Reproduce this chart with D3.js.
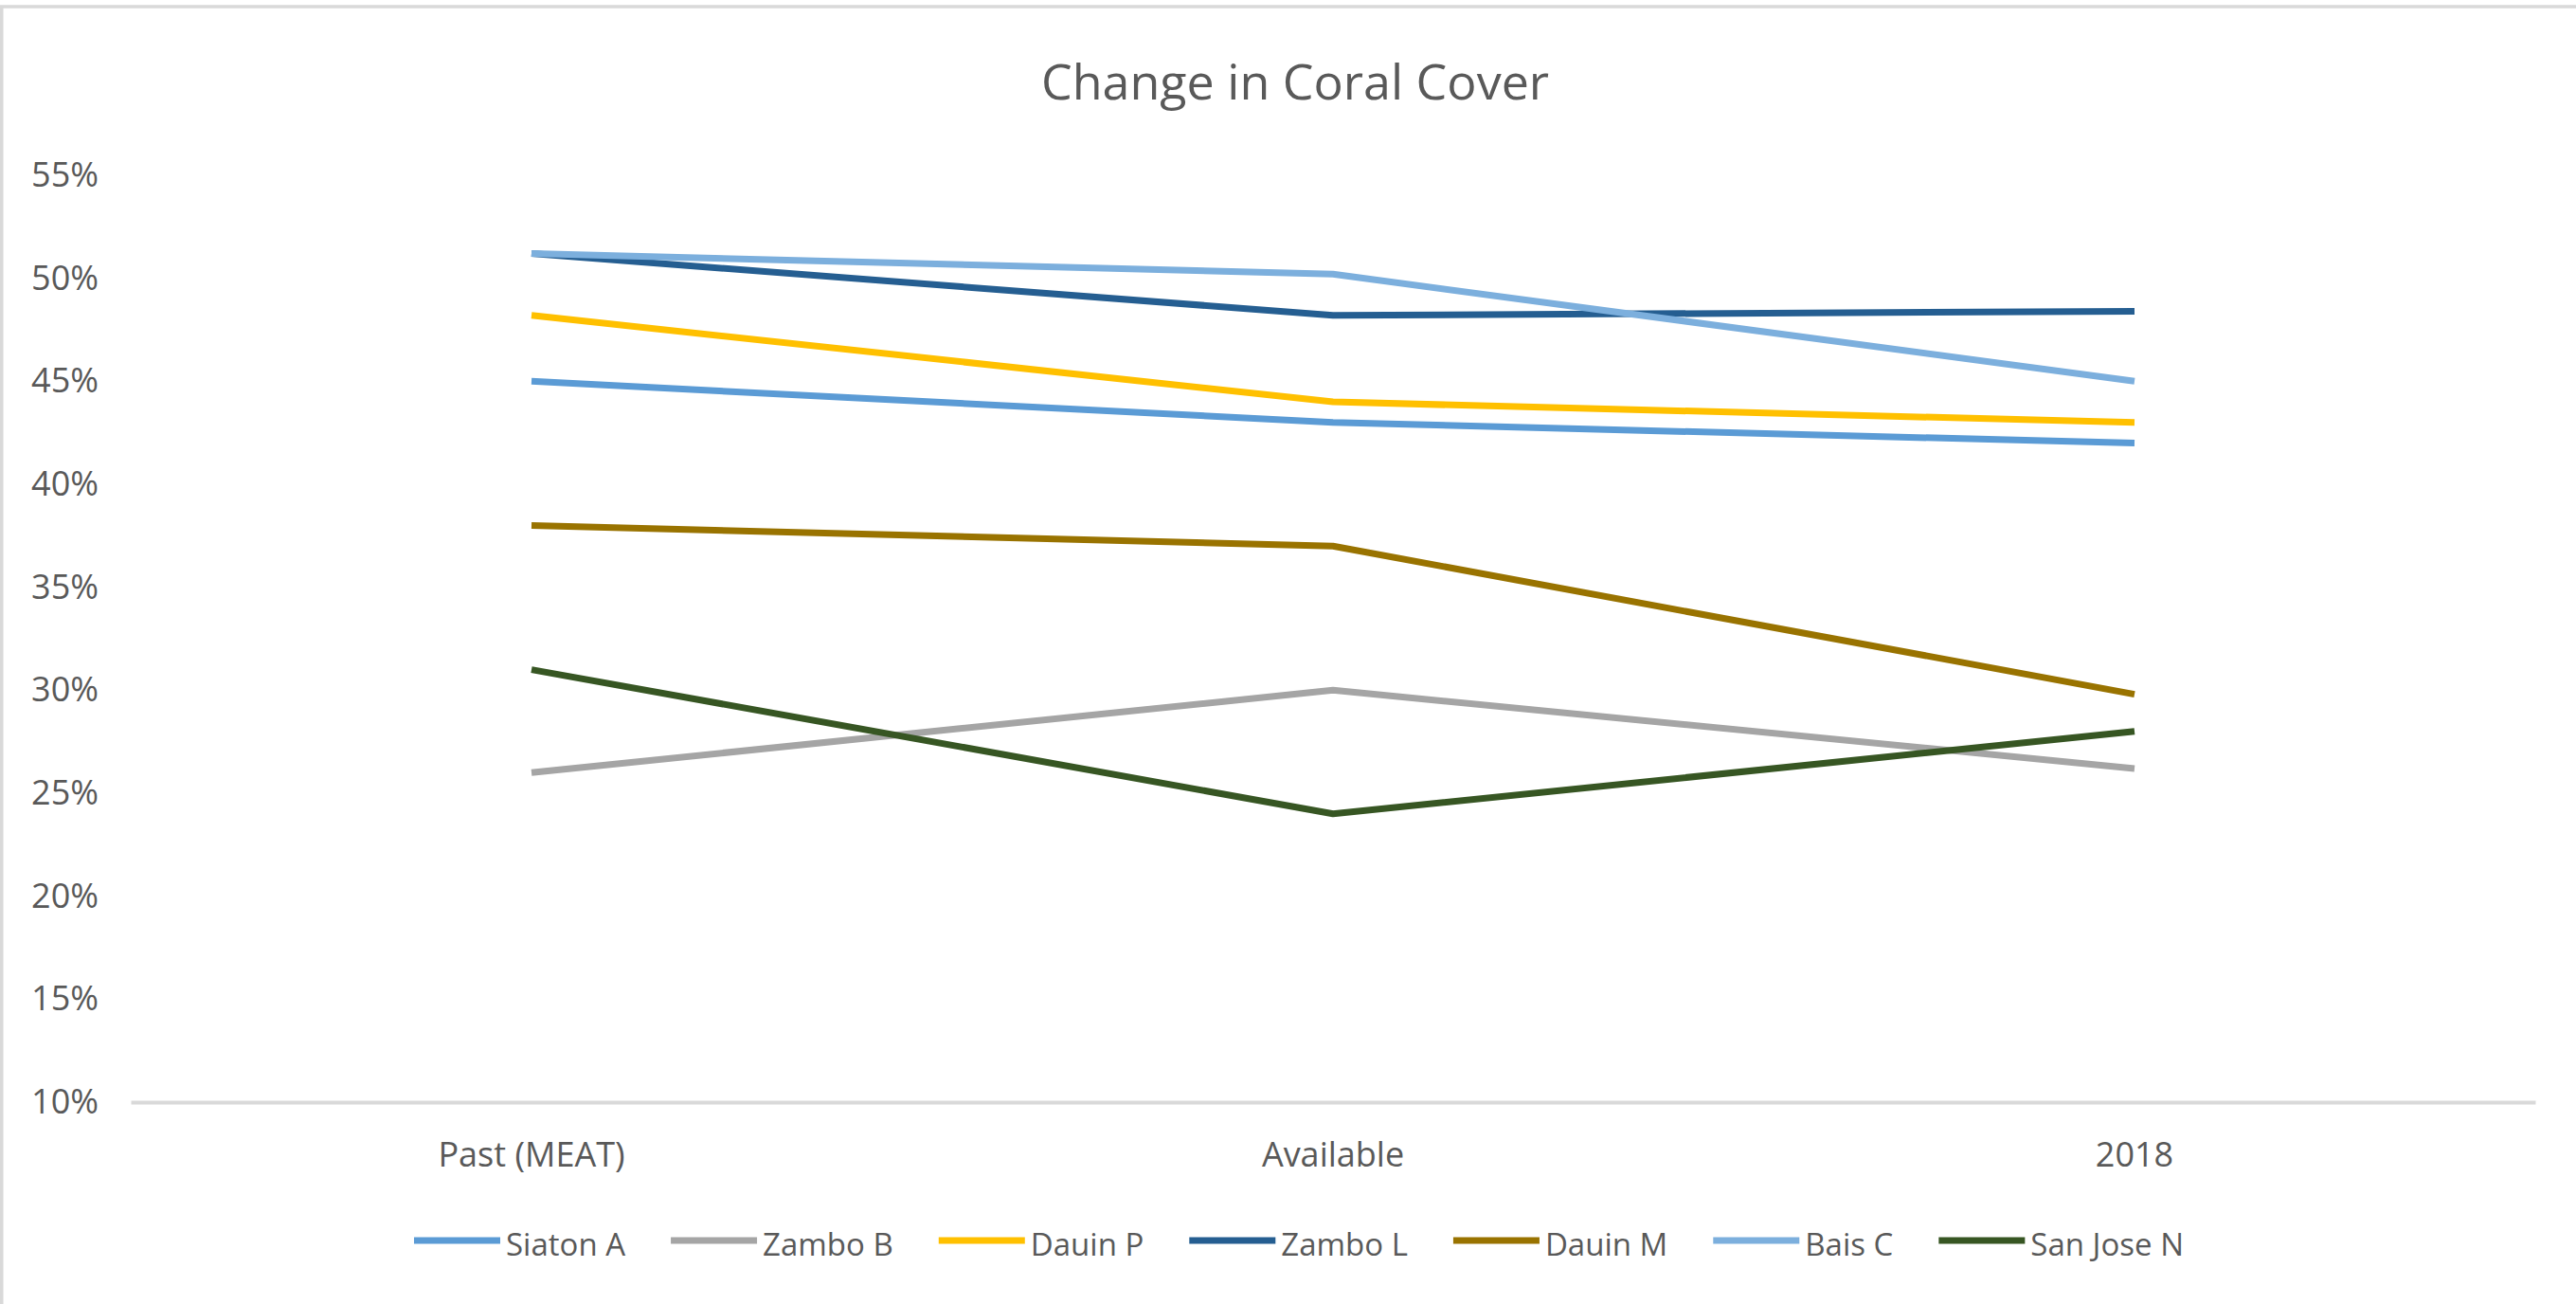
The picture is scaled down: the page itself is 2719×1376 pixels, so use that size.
<!DOCTYPE html>
<html>
<head>
<meta charset="utf-8">
<script src="https://cdn.jsdelivr.net/npm/d3@7"></script>
<style>
  html, body { margin: 0; padding: 0; background: #fff; }
  svg { display: block; }
  text { font-family: "Open Sans", "Noto Sans", sans-serif; fill: #595959; }
</style>
</head>
<body>
<svg id="chart" width="2719" height="1376"></svg>
<script>
const title = "Change in Coral Cover";
const categories = ["Past (MEAT)", "Available", "2018"];
const seriesNames = ["Siaton A", "Zambo B", "Dauin P", "Zambo L", "Dauin M", "Bais C", "San Jose N"];
const siatonA  = [45.0, 43.0, 42.0];
const zamboB   = [26.0, 30.0, 26.2];
const dauinP   = [48.2, 44.0, 43.0];
const zamboL   = [51.2, 48.2, 48.4];
const dauinM   = [38.0, 37.0, 29.8];
const baisC    = [51.2, 50.2, 45.0];
const sanJoseN = [31.0, 24.0, 28.0];
const seriesColors = ["#5B9BD5", "#A5A5A5", "#FFC000", "#255E91", "#997300", "#7CAFDD", "#375623"];
const yTicks = [10, 15, 20, 25, 30, 35, 40, 45, 50, 55];

const seriesValues = [siatonA, zamboB, dauinP, zamboL, dauinM, baisC, sanJoseN];
const series = seriesNames.map((n, i) => ({ name: n, values: seriesValues[i], color: seriesColors[i] }));

const W = 2719, H = 1376;
const svg = d3.select("#chart");

// chart border (top/left visible)
svg.append("rect").attr("x", 1.75).attr("y", 7).attr("width", W + 10).attr("height", H + 10)
  .attr("fill", "#fff").attr("stroke", "#D9D9D9").attr("stroke-width", 3.5);

const plot = { left: 138, right: 2676, top: 185, bottom: 1163 };

const x = d3.scaleBand().domain(categories).range([plot.left, plot.right]).padding(0);
const y = d3.scaleLinear().domain([10, 55]).range([plot.bottom, plot.top]);

// title
svg.append("text").attr("x", 1367).attr("y", 105).attr("text-anchor", "middle")
  .style("font-size", "52px").text(title);

// y axis labels
const yAxis = d3.axisLeft(y).tickValues(yTicks).tickSize(0).tickPadding(0)
  .tickFormat(d => d + "%");
const yg = svg.append("g").attr("transform", `translate(104,0)`).call(yAxis);
yg.select(".domain").remove();
yg.selectAll("text").style("font-size", "36px").attr("fill", "#595959")
  .style("font-family", '"Open Sans", "Noto Sans", sans-serif');

// x axis
const xAxis = d3.axisBottom(x).tickSize(0).tickPadding(0);
const xg = svg.append("g").attr("transform", `translate(0,${plot.bottom})`).call(xAxis);
xg.select(".domain").attr("stroke", "#D9D9D9").attr("stroke-width", 4);
xg.selectAll("text").style("font-size", "36px").attr("fill", "#595959")
  .style("font-family", '"Open Sans", "Noto Sans", sans-serif')
  .attr("dy", null).attr("y", 68);

// lines
const line = d3.line()
  .x((d, i) => x(categories[i]) + x.bandwidth() / 2)
  .y(d => y(d));

svg.append("g").selectAll("path").data(series).join("path")
  .attr("d", d => line(d.values))
  .attr("fill", "none")
  .attr("stroke", d => d.color)
  .attr("stroke-width", 7)
  .attr("stroke-linejoin", "round")
  .attr("stroke-linecap", "butt");

// legend
const legend = svg.append("g");
const items = legend.selectAll("g").data(series).join("g");
items.append("line").attr("x1", 0).attr("x2", 91).attr("y1", 0).attr("y2", 0)
  .attr("stroke", d => d.color).attr("stroke-width", 7);
items.append("text").attr("x", 97).attr("y", 0).attr("dy", 16)
  .style("font-size", "33px").text(d => d.name);
let cx = 0;
const gap = 48;
items.each(function () {
  const t = d3.select(this).select("text").node().getComputedTextLength();
  d3.select(this).attr("transform", `translate(${cx},1309)`);
  cx += 97 + t + gap;
});
const total = cx - gap;
legend.attr("transform", `translate(${1371 - total / 2},0)`);
</script>
</body>
</html>
